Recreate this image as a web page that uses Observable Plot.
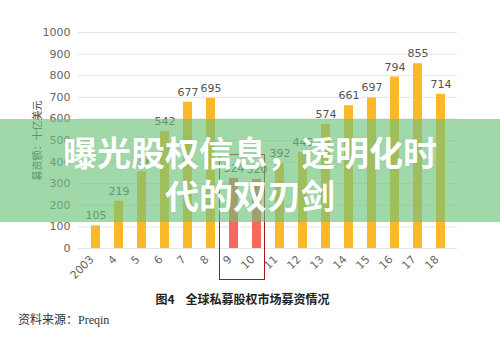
<!DOCTYPE html>
<html>
<head>
<meta charset="utf-8">
<script src="https://cdn.jsdelivr.net/npm/d3@7"></script>
<script src="https://cdn.jsdelivr.net/npm/@observablehq/plot@0.6"></script>
<style>
  html, body { margin: 0; padding: 0; background: #fff; }
  #wrap { position: relative; width: 500px; height: 343px; overflow: hidden; background: #fff; }
  #banner { position: absolute; left: 0; top: 119px; width: 500px; height: 103px;
    background: rgba(106,193,120,0.63); color: #fff; text-align: center;
    font-family: "Noto Sans CJK SC", sans-serif; font-weight: 700; font-size: 34px;
    line-height: 43px; box-sizing: border-box; padding-top: 11px;
    text-shadow: 0 0 2px rgba(0,0,0,0.08); }
  #caption { position: absolute; left: 0; width: 485px; top: 290px; text-align: center;
    font-family: "Noto Sans CJK SC", serif; font-weight: 700; font-size: 12px; color: #222; }
  #source { position: absolute; left: 18px; top: 310px;
    font-family: "Noto Sans CJK SC", serif; font-size: 12px; color: #333; }
  #source span { font-family: "Liberation Serif", serif; }
  #box { position: absolute; border: 1.5px solid #a5161a; box-sizing: border-box; }
</style>
</head>
<body>
<div id="wrap">
  <div id="chart"></div>
  <div id="box"></div>
  <div id="banner">曝光股权信息，透明化时<br>代的双刃剑</div>
  <div id="caption">图4&nbsp;&nbsp;&nbsp;&nbsp;全球私募股权市场募资情况</div>
  <div id="source">资料来源：<span>Preqin</span></div>
</div>
<script>
const years = ["2003","4","5","6","7","8","9","10","11","12","13","14","15","16","17","18"];
const values = [105,219,356,542,677,695,324,320,392,445,574,661,697,794,855,714];
const highlight = ["9","10"];
const yTicks = [0,100,200,300,400,500,600,700,800,900,1000];
const yLabel = "募资额：十亿美元";

const data = years.map((y, i) => ({year: y, value: values[i], hi: highlight.includes(y)}));

const chart = Plot.plot({
  width: 500,
  height: 290,
  marginTop: 32,
  marginBottom: 42,
  marginLeft: 78,
  marginRight: 43,
  style: {fontFamily: "DejaVu Sans, 'Noto Sans CJK SC', sans-serif", fontSize: "11px", color: "#666", background: "transparent"},
  x: {domain: years, paddingInner: 0.62, paddingOuter: 0.317, label: null},
  y: {domain: [0, 1000], label: null},
  marks: [
    Plot.ruleY(yTicks, {stroke: "#e6e6e6", strokeWidth: 1}),
    Plot.barY(data, {x: "year", y: "value", fill: d => d.hi ? "#f7695c" : "#fbb829"}),
    Plot.text(data, {x: "year", y: "value", text: d => String(d.value), dy: -10, fill: "#555", fontSize: 11}),
    Plot.axisY({ticks: yTicks, tickFormat: d3.format("d"), tickSize: 0, tickPadding: 8, label: null, fill: "#666"}),
    Plot.text([yLabel], {frameAnchor: "left", textAnchor: "middle", rotate: -90, dx: -41, text: d => d, fill: "#444", fontSize: 10}),
    Plot.axisX({tickRotate: -45, tickSize: 0, tickPadding: 6, dx: -4, dy: 3, label: null, fill: "#666"})
  ]
});
document.getElementById("chart").appendChild(chart);

// highlight box around the two highlighted years, placed from the chart's scales
const xs = chart.scale("x");
const ys = chart.scale("y");
const bw = xs.bandwidth;
const x0 = xs.apply(highlight[0]) - bw * 1.1;
const x1 = xs.apply(highlight[highlight.length - 1]) + bw * 1.5;
const yTop = ys.apply(435);
const yBot = 280;
const box = document.getElementById("box");
box.style.left = x0 + "px";
box.style.width = (x1 - x0) + "px";
box.style.top = yTop + "px";
box.style.height = (yBot - yTop) + "px";
</script>
</body>
</html>
